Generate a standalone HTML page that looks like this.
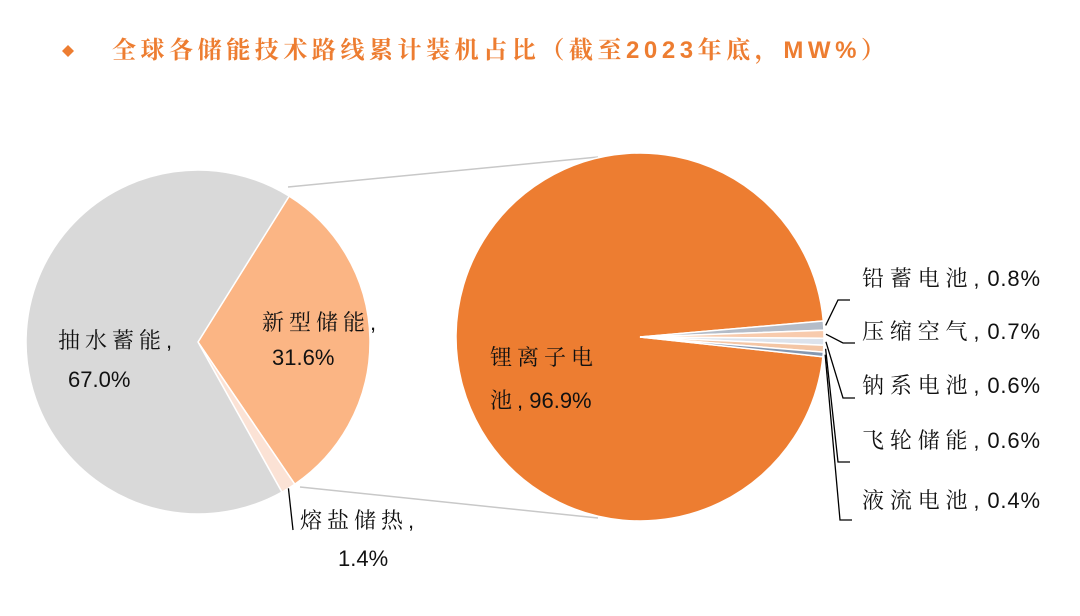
<!DOCTYPE html>
<html><head><meta charset="utf-8">
<style>
html,body{margin:0;padding:0;background:#fff;}
svg{display:block;font-family:"Liberation Sans","Noto Serif CJK SC",serif;}
</style></head>
<body>
<svg id="chart" width="1080" height="616" viewBox="0 0 1080 616" xmlns="http://www.w3.org/2000/svg">
  <rect x="0" y="0" width="1080" height="616" fill="#fff"/>
  <path d="M68 45 L74 51 L68 57 L62 51 Z" fill="#ed7d31"/>
  <text x="112" y="58" font-size="24" font-weight="bold" fill="#ed7d31" font-family="'Noto Serif CJK SC',serif" textLength="773" lengthAdjust="spacing"><tspan>全球各储能技术路线累计装机占比（截至</tspan><tspan font-family="'Liberation Sans',sans-serif">2023</tspan><tspan>年底，</tspan><tspan font-family="'Liberation Sans',sans-serif">MW%</tspan><tspan>）</tspan></text>
  <line x1="288" y1="187" x2="598" y2="157" stroke="#c8c8c8" stroke-width="1.5"/>
  <line x1="300" y1="487" x2="598" y2="518" stroke="#c8c8c8" stroke-width="1.5"/>
  <g id="leftPie"></g>
  <g id="rightPie"></g>
  <g id="labels"></g>
</svg>
<script>
const leftCategories = ["新型储能", "熔盐储热", "抽水蓄能"];
const leftValues = [31.6, 1.4, 67.0];
const rightCategories = ["锂离子电池", "铅蓄电池", "压缩空气", "钠系电池", "飞轮储能", "液流电池"];
const rightValues = [96.9, 0.8, 0.7, 0.6, 0.6, 0.4];

const NS = "http://www.w3.org/2000/svg";
function mk(tag, attrs, parent) {
  const el = document.createElementNS(NS, tag);
  for (const k in attrs) el.setAttribute(k, attrs[k]);
  parent.appendChild(el);
  return el;
}
function pt(cx, cy, r, deg) { const a = deg * Math.PI / 180; return [cx + r * Math.cos(a), cy + r * Math.sin(a)]; }
function slicePath(cx, cy, r, a0, a1) {
  const p0 = pt(cx, cy, r, a0), p1 = pt(cx, cy, r, a1);
  const large = (a1 - a0) > 180 ? 1 : 0;
  return `M${cx},${cy} L${p0[0]},${p0[1]} A${r},${r} 0 ${large} 1 ${p1[0]},${p1[1]} Z`;
}
function drawPie(g, values, names, cx, cy, r, start, colors, stroke) {
  const total = values.reduce((a, b) => a + b, 0);
  let a = start;
  const angles = [];
  values.forEach((v, i) => {
    const sweep = v / total * 360;
    const p = mk("path", { d: slicePath(cx, cy, r, a, a + sweep), fill: colors[i], stroke: stroke, "stroke-width": 1.5 }, g);
    
    
    angles.push([a, a + sweep]);
    a += sweep;
  });
  return angles;
}
const lp = drawPie(document.getElementById("leftPie"), leftValues, leftCategories, 198, 342, 172, -58,
  ["#fbb584", "#fbe2d5", "#d9d9d9"], "#fff");
const rTotal = rightValues.reduce((a, b) => a + b, 0);
const smallSweep = (rTotal - rightValues[0]) / rTotal * 360;
const rStart = -5 + smallSweep;
const rp = drawPie(document.getElementById("rightPie"), rightValues, rightCategories, 640, 337, 184, rStart,
  ["#ed7d31", "#b4bcc8", "#f8cbad", "#dde3ec", "#f4c6a5", "#8497b0"], "#fff");

const L = document.getElementById("labels");
function txt(cjk, rest, x, y, name, len) {
  const t = mk("text", { x: x, y: y, "font-size": 22, fill: "#111" }, L);
  if (cjk) {
    const s1 = mk("tspan", { "font-family": "'Noto Serif CJK SC',serif", "letter-spacing": 5 }, t);
    s1.textContent = cjk;
  }
  if (rest) {
    const s2 = mk("tspan", { "font-family": "'Liberation Sans',sans-serif" }, t);
    s2.textContent = rest;
  }
  if (len) { t.setAttribute("textLength", len); t.setAttribute("lengthAdjust", "spacing"); }
  
  
  return t;
}
txt(leftCategories[2], ",", 58, 348, "label-pumped-hydro-name");
txt("", leftValues[2].toFixed(1) + "%", 68, 387, "label-pumped-hydro-value");
txt(leftCategories[0], ",", 262, 330, "label-new-storage-name");
txt("", leftValues[0].toFixed(1) + "%", 272, 365, "label-new-storage-value");
txt(leftCategories[1], ",", 300, 528, "label-molten-salt-name");
txt("", leftValues[1].toFixed(1) + "%", 338, 566, "label-molten-salt-value");
const mMid = (lp[1][0] + lp[1][1]) / 2;
const mp = pt(198, 342, 172, mMid);
const ml = mk("line", { x1: mp[0], y1: mp[1], x2: 293, y2: 530, stroke: "#000", "stroke-width": 1.3 }, L);



txt("锂离子电", "", 490, 365, "label-lithium-name");
txt("池", ", " + rightValues[0].toFixed(1) + "%", 490, 408, "label-lithium-value");

const labelY = [286, 339, 393, 448, 508];
const elbowX = [838, 843, 843, 838, 840];
const elbowY = [300, 343, 398, 462, 520];
for (let i = 1; i < rightValues.length; i++) {
  const mid = (rp[i][0] + rp[i][1]) / 2;
  const e = pt(640, 337, 186, mid);
  const pl = mk("polyline", { points: `${e[0]},${e[1]} ${elbowX[i-1]},${elbowY[i-1]} ${elbowX[i-1]+12},${elbowY[i-1]}`, fill: "none", stroke: "#000", "stroke-width": 1.3 }, L);
  
  
  txt(rightCategories[i], ", " + rightValues[i].toFixed(1) + "%", 862, labelY[i-1], "label-" + rightCategories[i], 178);
}
</script>
</body></html>
